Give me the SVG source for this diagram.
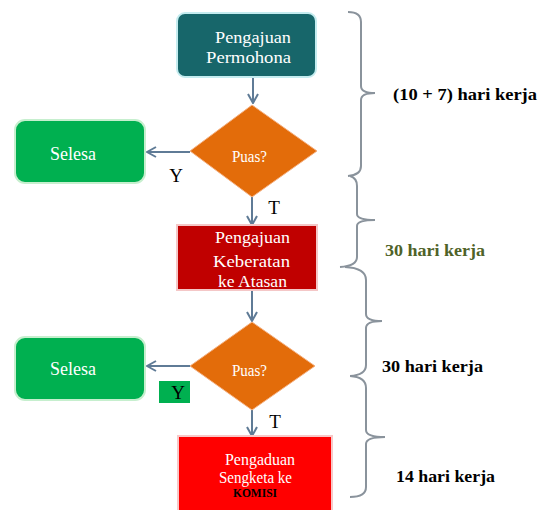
<svg xmlns="http://www.w3.org/2000/svg" width="538" height="510" viewBox="0 0 538 510">
<defs>
<style>
.t{font-family:"Liberation Serif","Times New Roman",serif;fill:#fff}
.lbl{font-family:"Liberation Serif","Times New Roman",serif;fill:#000}
.dur{font-family:"Liberation Serif","Times New Roman",serif;font-weight:bold;font-size:17px;fill:#000}
.con{stroke:#5f7b96;stroke-width:2;fill:none}
.brace{stroke:#8a939c;stroke-width:2;fill:none}
</style>
<marker id="ah" viewBox="0 0 12 12" refX="11" refY="6" markerWidth="12" markerHeight="12" markerUnits="userSpaceOnUse" orient="auto">
<path d="M2,1 L11,6 L2,11" fill="none" stroke="#5f7b96" stroke-width="2"/>
</marker>
</defs>
<rect width="538" height="510" fill="#fff"/>

<g id="connectors">
<line class="con" x1="253" y1="77" x2="253" y2="103" marker-end="url(#ah)"/>
<line class="con" x1="190" y1="152" x2="147" y2="152" marker-end="url(#ah)"/>
<line class="con" x1="252" y1="197" x2="252" y2="225" marker-end="url(#ah)"/>
<line class="con" x1="252" y1="290" x2="252" y2="321" marker-end="url(#ah)"/>
<line class="con" x1="190" y1="366" x2="147" y2="366" marker-end="url(#ah)"/>
<line class="con" x1="252" y1="410" x2="252" y2="436" marker-end="url(#ah)"/>
</g>

<g id="n-pengajuan-permohonan">
<rect x="177" y="13" width="139" height="64" rx="8" fill="#17666a" stroke="#c4ecef" stroke-width="2"/>
<text class="t" x="215" y="43" font-size="17" textLength="76" lengthAdjust="spacingAndGlyphs">Pengajuan</text>
<text class="t" x="206" y="63" font-size="17" textLength="85" lengthAdjust="spacingAndGlyphs">Permohona</text>
</g>

<g id="n-puas-1">
<polygon points="252,105 317,151 252,197 190,151" fill="#e36c0a" stroke="#f4b183" stroke-width="1"/>
<text class="t" x="232" y="162" font-size="16" textLength="35" lengthAdjust="spacingAndGlyphs">Puas?</text>
</g>

<g id="n-selesa-1">
<rect x="15" y="120" width="130" height="63" rx="10" fill="#00b050" stroke="#c6efce" stroke-width="2"/>
<text class="t" x="50" y="160" font-size="18" textLength="46" lengthAdjust="spacingAndGlyphs">Selesa</text>
</g>

<g id="n-keberatan">
<rect x="177" y="225" width="140" height="65" fill="#c00000" stroke="#f4c7c7" stroke-width="2"/>
<text class="t" x="215" y="243" font-size="17" textLength="75" lengthAdjust="spacingAndGlyphs">Pengajuan</text>
<text class="t" x="213" y="267" font-size="17" textLength="77" lengthAdjust="spacingAndGlyphs">Keberatan</text>
<text class="t" x="218" y="287" font-size="17" textLength="69" lengthAdjust="spacingAndGlyphs">ke Atasan</text>
</g>

<g id="n-puas-2">
<polygon points="252,322 315,366 252,410 190,366" fill="#e36c0a" stroke="#f4b183" stroke-width="1"/>
<text class="t" x="232" y="376" font-size="16" textLength="35" lengthAdjust="spacingAndGlyphs">Puas?</text>
</g>

<g id="n-selesa-2">
<rect x="15" y="337" width="130" height="63" rx="10" fill="#00b050" stroke="#c6efce" stroke-width="2"/>
<text class="t" x="50" y="375" font-size="18" textLength="46" lengthAdjust="spacingAndGlyphs">Selesa</text>
</g>

<g id="n-komisi">
<rect x="178" y="436" width="154" height="76" fill="#ff0000" stroke="#f8c8c8" stroke-width="2"/>
<text class="t" x="225" y="465" font-size="16" textLength="70" lengthAdjust="spacingAndGlyphs">Pengaduan</text>
<text class="t" x="219" y="483" font-size="16" textLength="73" lengthAdjust="spacingAndGlyphs">Sengketa ke</text>
<text x="233" y="497" font-size="13" font-weight="bold" textLength="44" lengthAdjust="spacingAndGlyphs" font-family="'Liberation Serif','Times New Roman',serif" fill="#000">KOMISI</text>
</g>

<g id="labels">
<text class="lbl" x="176" y="182" font-size="19" text-anchor="middle">Y</text>
<text class="lbl" x="274" y="214" font-size="19" text-anchor="middle">T</text>
<rect x="159" y="381" width="31" height="22" fill="#00b050"/>
<text class="lbl" x="178" y="399" font-size="19" text-anchor="middle">Y</text>
<text class="lbl" x="275" y="428" font-size="19" text-anchor="middle">T</text>
</g>

<g id="braces">
<path class="brace" d="M348,12 Q361,12 361,22 L361,86 Q361,93 375,93 Q361,93 361,100 L361,166 Q361,175 348,176"/>
<path class="brace" d="M350,176 Q357,178 357,186 L357,214 Q357,220 375,220 Q357,220 357,226 L357,257 Q357,266 340,267"/>
<path class="brace" d="M345,267 Q366,268 366,280 L366,314 Q366,321 382,321 Q366,321 366,328 L366,365 Q366,375 350,376"/>
<path class="brace" d="M350,376 Q366,377 366,388 L366,430 Q366,437 385,437 Q366,437 366,444 L366,487 Q366,497 350,497"/>
</g>

<g id="durations">
<text class="dur" x="393" y="100" textLength="144" lengthAdjust="spacingAndGlyphs">(10 + 7) hari kerja</text>
<text class="dur" x="385" y="256" style="fill:#4f6228" textLength="100" lengthAdjust="spacingAndGlyphs">30 hari kerja</text>
<text class="dur" x="382" y="372" textLength="101" lengthAdjust="spacingAndGlyphs">30 hari kerja</text>
<text class="dur" x="396" y="482" textLength="99" lengthAdjust="spacingAndGlyphs">14 hari kerja</text>
</g>
</svg>
